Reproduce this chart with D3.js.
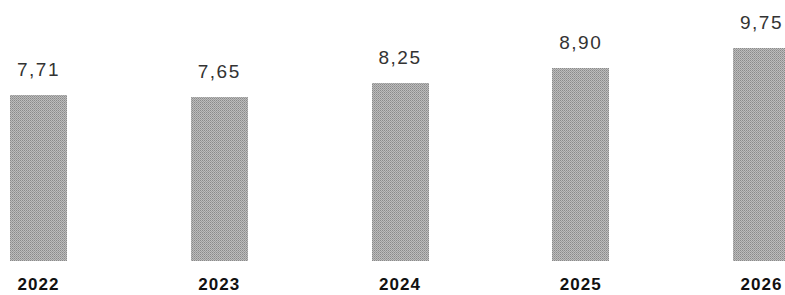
<!DOCTYPE html>
<html>
<head>
<meta charset="utf-8">
<script src="https://cdn.jsdelivr.net/npm/d3@7"></script>
<style>
  body { margin: 0; background: #fff; }
  svg { display: block; }
</style>
</head>
<body>
<svg id="chart" width="785" height="295"></svg>
<script>
const years = ["2022", "2023", "2024", "2025", "2026"];
const values = [7.71, 7.65, 8.25, 8.90, 9.75];

const width = 785, height = 295;
const barWidth = 57;
const baseY = 261;

const svg = d3.select("#chart");

// dithered grey fill
const defs = svg.append("defs");
const pat = defs.append("pattern")
  .attr("id", "dither")
  .attr("width", 2).attr("height", 2)
  .attr("patternUnits", "userSpaceOnUse");
pat.append("rect").attr("width", 2).attr("height", 2).attr("fill", "#bcbcbc");
pat.append("rect").attr("x", 0).attr("y", 0).attr("width", 1).attr("height", 1).attr("fill", "#8a8a8a");
pat.append("rect").attr("x", 1).attr("y", 1).attr("width", 1).attr("height", 1).attr("fill", "#9c9c9c");

const x = d3.scalePoint()
  .domain(years)
  .range([38.5, 761.5]);

const y = d3.scaleLinear()
  .domain([0.5, 10])
  .range([baseY, baseY - 23 * 9.5]);

const fmt = v => d3.format(".2f")(v).replace(".", ",");

svg.selectAll("rect.bar")
  .data(values)
  .enter()
  .append("rect")
  .attr("class", "bar")
  .attr("x", (d, i) => x(years[i]) - barWidth / 2)
  .attr("y", d => y(d))
  .attr("width", barWidth)
  .attr("height", d => baseY - y(d))
  .attr("fill", "url(#dither)")
  .attr("shape-rendering", "crispEdges");

svg.selectAll("text.val")
  .data(values)
  .enter()
  .append("text")
  .attr("class", "val")
  .attr("x", (d, i) => x(years[i]))
  .attr("y", d => y(d) - 19)
  .attr("text-anchor", "middle")
  .attr("font-family", "Liberation Sans, Arial, sans-serif")
  .attr("font-size", 19)
  .attr("letter-spacing", 1.5)
  .attr("fill", "#333")
  .text(d => fmt(d));

svg.selectAll("text.year")
  .data(years)
  .enter()
  .append("text")
  .attr("class", "year")
  .attr("x", d => x(d))
  .attr("y", 290)
  .attr("text-anchor", "middle")
  .attr("font-family", "Liberation Sans, Arial, sans-serif")
  .attr("font-weight", "bold")
  .attr("font-size", 17)
  .attr("letter-spacing", 1)
  .attr("fill", "#111")
  .text(d => d);
</script>
</body>
</html>
